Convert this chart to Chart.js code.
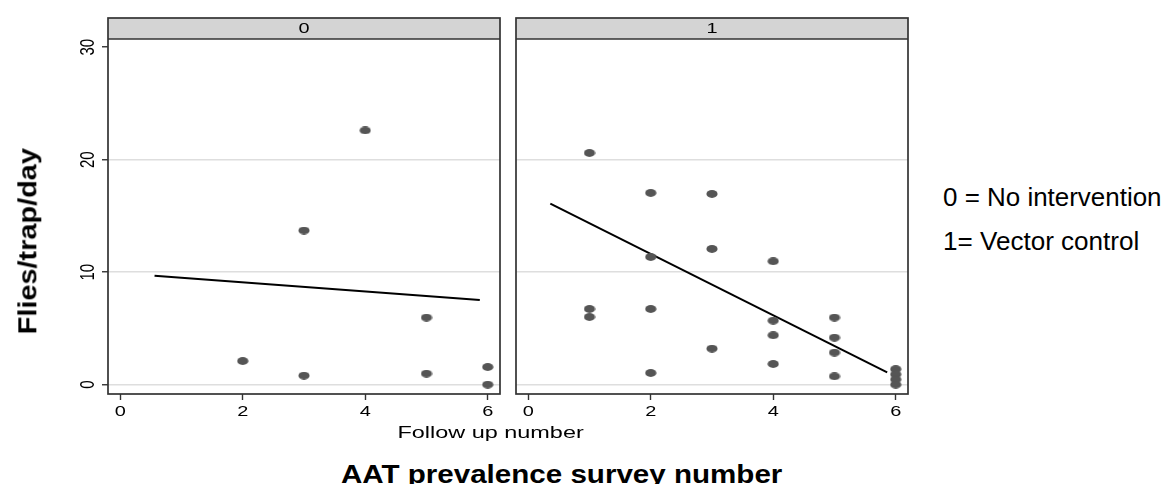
<!DOCTYPE html>
<html><head><meta charset="utf-8">
<script src="https://cdn.jsdelivr.net/npm/chart.js@4.4.1/dist/chart.umd.min.js"></script>
<style>
html,body{margin:0;padding:0;background:#fff;}
#wrap{position:relative;width:1166px;height:484px;overflow:hidden;font-family:"Liberation Sans",Arial,sans-serif;}
canvas{position:absolute;}
.t{position:absolute;white-space:nowrap;color:#000;line-height:1;}
</style></head>
<body><div id="wrap">
<canvas id="c0" width="512" height="430" style="left:0;top:0"></canvas>
<canvas id="c1" width="400" height="430" style="left:512px;top:0"></canvas>
<div class="t" id="xsub">Follow up number</div>
<div class="t" id="xtitle" style="font-weight:bold">AAT prevalence survey number</div>
<div class="t" id="ytitle" style="font-weight:bold">Flies/trap/day</div>
<div class="t" id="leg0">0 = No intervention</div>
<div class="t" id="leg1">1= Vector control</div>
</div>
<script>
// ---- data ----
const panelLabels = ["0", "1"];
const xTicks = [0, 2, 4, 6];
const yTicks = [0, 10, 20, 30];
const panel0X = [4, 3, 5, 2, 3, 5, 6, 6];
const panel0Y = [22.6, 13.7, 5.96, 2.1, 0.8, 0.98, 1.57, 0];
const fit0X = [0.56, 5.87];
const fit0Y = [9.69, 7.53];
const panel1X = [1, 1, 1, 2, 2, 2, 2, 3, 3, 3, 4, 4, 4, 4, 5, 5, 5, 5, 6, 6, 6, 6];
const panel1Y = [20.6, 6.73, 6.02, 17.05, 11.35, 6.73, 1.04, 16.96, 12.07, 3.2, 10.97, 5.69, 4.39, 1.84, 5.96, 4.18, 2.85, 0.74, 1.38, 0.92, 0.46, 0];
const fit1X = [0.36, 5.86];
const fit1Y = [16.1, 1.1];

// ---- styling ----
const SX = 1.33;            // horizontal stretch of the original graph text
const STRIP_TOP = 18;
const dot = document.createElement('canvas');
dot.width = 12; dot.height = 8;
(function(){ const c = dot.getContext('2d'); c.fillStyle = '#555555'; c.beginPath(); c.ellipse(6, 4, 5.6, 3.9, 0, 0, Math.PI*2); c.fill(); })();

function drawStretched(ctx, txt, cx, cy, rot){
  ctx.save(); ctx.translate(cx, cy); ctx.scale(SX, 1); ctx.rotate(rot);
  ctx.font = '15px "Liberation Sans", Arial, sans-serif';
  ctx.textAlign = 'center'; ctx.textBaseline = 'middle'; ctx.fillStyle = '#000';
  ctx.fillText(txt, 0, 0.5); ctx.restore();
}
const decor = {
  id: 'decor',
  afterDraw(chart, args, opts){
    const {ctx, chartArea: a, scales: {x, y}} = chart;
    ctx.save();
    ctx.fillStyle = '#d4d4d4';
    ctx.fillRect(a.left, STRIP_TOP, a.right - a.left, a.top - STRIP_TOP);
    ctx.strokeStyle = '#333333'; ctx.lineWidth = 1.7;
    ctx.strokeRect(a.left, STRIP_TOP, a.right - a.left, a.bottom - STRIP_TOP);
    ctx.beginPath(); ctx.moveTo(a.left, a.top); ctx.lineTo(a.right, a.top); ctx.stroke();
    drawStretched(ctx, opts.label, (a.left + a.right) / 2, (STRIP_TOP + a.top) / 2, 0);
    x.ticks.forEach(t => drawStretched(ctx, String(t.value), x.getPixelForValue(t.value), 411, 0));
    if (opts.yLabels) y.ticks.forEach(t => drawStretched(ctx, String(t.value), 88, y.getPixelForValue(t.value), -Math.PI/2));
    ctx.restore();
  }
};

function makeChart(id, xs, ys, fx, fy, label, showY, pad){
  const pts = xs.map((v, i) => ({x: v, y: ys[i]}));
  const fit = fx.map((v, i) => ({x: v, y: fy[i]}));
  return new Chart(document.getElementById(id), {
    type: 'scatter',
    data: { datasets: [
      { data: pts, pointStyle: dot, pointRadius: 5, showLine: false },
      { data: fit, showLine: true, pointRadius: 0, borderColor: '#000', borderWidth: 2, fill: false }
    ]},
    options: {
      responsive: false, animation: false, devicePixelRatio: 1,
      layout: { autoPadding: false, padding: pad },
      plugins: { legend: {display: false}, tooltip: {enabled: false}, decor: {label: label, yLabels: showY} },
      scales: {
        x: { type: 'linear', min: -0.2, max: 6.2,
             afterBuildTicks: s => { s.ticks = xTicks.map(v => ({value: v})); },
             afterFit: s => { s.height = 36; },
             ticks: { display: false },
             border: { display: false },
             grid: { drawOnChartArea: false, drawTicks: true, tickLength: 6, tickColor: '#333', tickWidth: 1.4 } },
        y: { type: 'linear', min: -0.83, max: 30.73,
             afterBuildTicks: s => { s.ticks = yTicks.map(v => ({value: v})); },
             afterFit: s => { s.width = showY ? 48 : 0; },
             ticks: { display: false },
             border: { display: false },
             grid: { drawOnChartArea: true, drawTicks: showY, tickLength: 6, tickColor: '#333', tickWidth: 1.4,
                     lineWidth: 1.5,
                     color: c => (c.tick && c.tick.value === 30) ? 'rgba(0,0,0,0)' : '#dedede' } }
      }
    },
    plugins: [decor]
  });
}
makeChart('c0', panel0X, panel0Y, fit0X, fit0Y, panelLabels[0], true, {left: 60, right: 12, top: 39, bottom: 0});
makeChart('c1', panel1X, panel1Y, fit1X, fit1Y, panelLabels[1], false, {left: 4, right: 4, top: 39, bottom: 0});

// ---- text placement ----
function place(id, cx, cy, size, targetLen, rot){
  const el = document.getElementById(id);
  el.style.fontSize = size + 'px';
  const w = el.offsetWidth, h = el.offsetHeight;
  const s = targetLen ? targetLen / w : 1;
  el.style.left = (cx - w / 2) + 'px';
  el.style.top = (cy - 0.49 * h) + 'px';
  el.style.transformOrigin = '50% 49%';
  el.style.transform = (rot ? 'rotate(' + rot + 'deg) ' : '') + 'scaleX(' + s + ')';
}
place('xsub', 490, 433, 16, 186, 0);
place('xtitle', 561, 474, 25, 441, 0);
place('ytitle', 27, 241, 25, 186, -90);
document.getElementById('leg0').style.fontSize = '25px';
document.getElementById('leg1').style.fontSize = '25px';
(function(){
  const a = document.getElementById('leg0'), b = document.getElementById('leg1');
  const sa = 219 / a.offsetWidth, sb = 196 / b.offsetWidth;
  a.style.left = '943px'; a.style.top = (197 - 0.49 * 25) + 'px'; a.style.transformOrigin = '0 50%'; a.style.transform = 'scaleX(' + sa + ')';
  b.style.left = '943px'; b.style.top = (241 - 0.49 * 25) + 'px'; b.style.transformOrigin = '0 50%'; b.style.transform = 'scaleX(' + sb + ')';
})();
</script>
</body></html>
